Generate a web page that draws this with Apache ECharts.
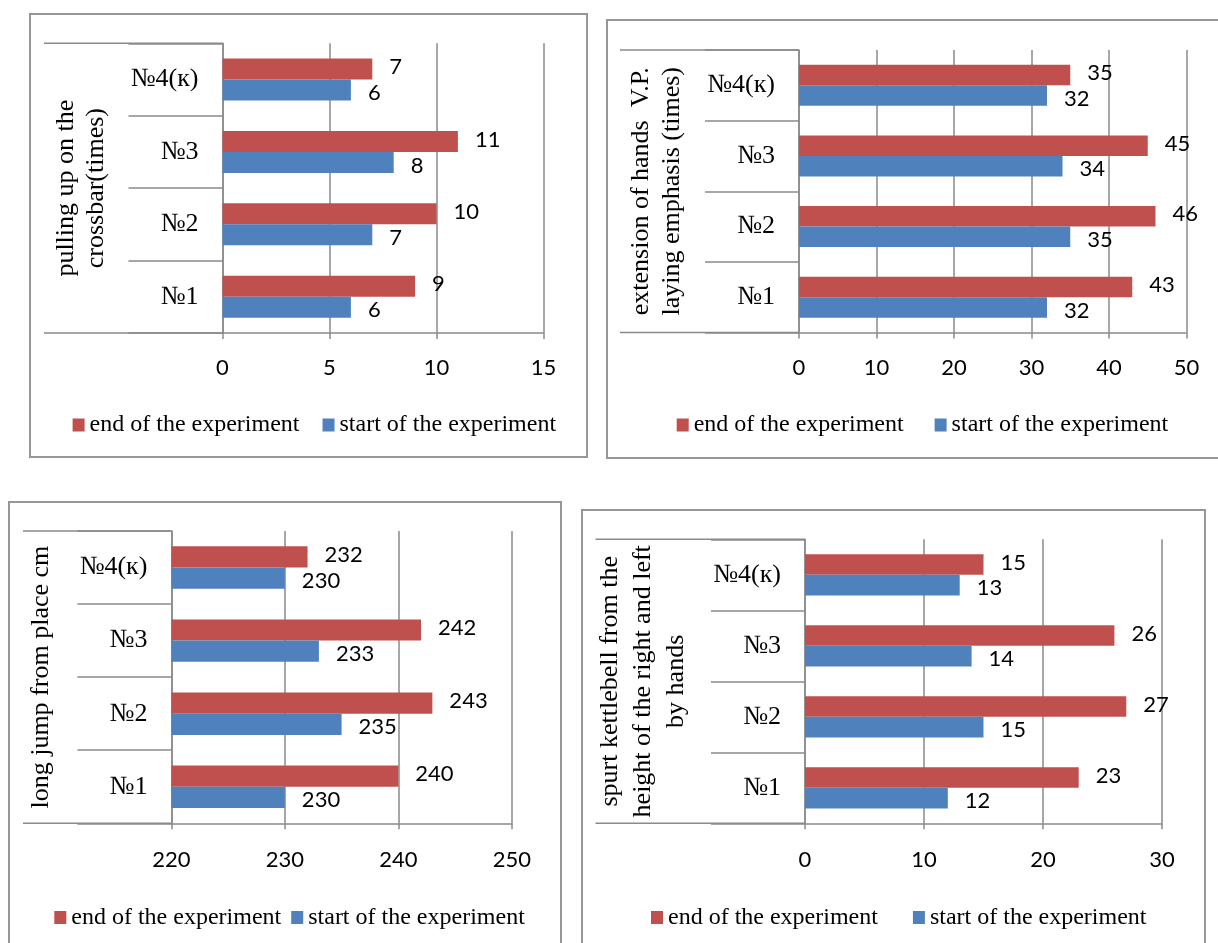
<!DOCTYPE html>
<html>
<head>
<meta charset="utf-8">
<script src="https://cdn.jsdelivr.net/npm/echarts@6/dist/echarts.min.js"></script>
<style>
  html, body { margin: 0; padding: 0; background: #fff; }
  #chart { width: 1218px; height: 943px; }
</style>
</head>
<body>
<div id="chart"></div>
<script>
// data
const categories = ['№1', '№2', '№3', '№4(к)'];
const seriesNames = ['end of the experiment', 'start of the experiment'];

const pullEnd = [9, 10, 11, 7];
const pullStart = [6, 7, 8, 6];
const pushEnd = [43, 46, 45, 35];
const pushStart = [32, 35, 34, 32];
const jumpEnd = [240, 243, 242, 232];
const jumpStart = [230, 235, 233, 230];
const kettleEnd = [23, 27, 26, 15];
const kettleStart = [12, 15, 14, 13];

const pullTicks = [0, 5, 10, 15];
const pushTicks = [0, 10, 20, 30, 40, 50];
const jumpTicks = [220, 230, 240, 250];
const kettleTicks = [0, 10, 20, 30];

const pullTitle = 'pulling up on the\ncrossbar(times)';
const pushTitle = 'extension of hands  V.P.\nlaying emphasis (times)';
const jumpTitle = 'long jump from place cm';
const kettleTitle = 'spurt kettlebell from the\nheight of the right and left\nby hands';

const RED = '#C0504D';
const BLUE = '#4F81BD';
const GRAY = '#8a8a8a';
const SERIF = "'Liberation Serif', 'Times New Roman', serif";
const SANS = "Lato, 'Open Sans', sans-serif";

// panel layout (page px)
const panels = [
  { end: pullEnd, start: pullStart, ticks: pullTicks, title: pullTitle,
    box: [30, 14, 557, 443], grid: { left: 222.5, top: 43.3, width: 321, height: 289.7 },
    lineLeft: 44, nameGap: 111, nameLH: 30, xMargin: 24, legend: { left: 67.6, top: 408, itemGap: 23 } },
  { end: pushEnd, start: pushStart, ticks: pushTicks, title: pushTitle,
    box: [607, 20, 640, 438], grid: { left: 799, top: 50, width: 387.5, height: 282.5 },
    lineLeft: 620, nameGap: 111.5, nameLH: 31, xMargin: 24, legend: { left: 671.7, top: 408, itemGap: 31 } },
  { end: jumpEnd, start: jumpStart, ticks: jumpTicks, title: jumpTitle,
    box: [9, 502, 552, 460], grid: { left: 171.4, top: 531, width: 340.4, height: 292.3 },
    lineLeft: 23, nameGap: 115, nameLH: 31, xMargin: 26, legend: { left: 49.3, top: 900.5, itemGap: 10 } },
  { end: kettleEnd, start: kettleStart, ticks: kettleTicks, title: kettleTitle,
    box: [582, 510, 623, 450], grid: { left: 805, top: 539.3, width: 357, height: 284 },
    lineLeft: 595.5, nameGap: 112, nameLH: 33, xMargin: 26, legend: { left: 646, top: 900.5, itemGap: 35 } },
];

const chart = echarts.init(document.getElementById('chart'));

const grid = [], xAxis = [], yAxis = [], series = [], legend = [], graphic = [];

panels.forEach((p, i) => {
  const g = p.grid;
  grid.push(g);

  xAxis.push({
    gridIndex: i, type: 'value',
    min: p.ticks[0], max: p.ticks[p.ticks.length - 1], interval: p.ticks[1] - p.ticks[0],
    axisLine: { show: true, lineStyle: { color: GRAY, width: 1.5 } },
    axisTick: { show: true, length: 6, lineStyle: { color: GRAY, width: 1.5 } },
    splitLine: { show: true, lineStyle: { color: GRAY, width: 1.5 } },
    axisLabel: { color: '#000', fontFamily: SANS, fontSize: 22, margin: p.xMargin },
  });

  yAxis.push({
    gridIndex: i, type: 'category', data: categories,
    name: p.title, nameLocation: 'middle', nameRotate: 90, nameGap: p.nameGap,
    nameTextStyle: { color: '#000', fontFamily: SERIF, fontSize: 26, lineHeight: p.nameLH },
    axisLine: { show: true, lineStyle: { color: GRAY, width: 1.5 } },
    axisTick: { show: true, length: 94, lineStyle: { color: GRAY, width: 1.5 } },
    splitLine: { show: false },
    axisLabel: { color: '#000', fontFamily: SERIF, fontSize: 26, margin: 24 },
  });

  const labelBase = { show: true, position: 'right', distance: 17, color: '#000', fontFamily: SANS, fontSize: 22 };
  series.push({
    name: seriesNames[0], type: 'bar', xAxisIndex: i, yAxisIndex: i, data: p.end,
    itemStyle: { color: RED }, barGap: '0%', barCategoryGap: '42%',
    label: { ...labelBase, offset: [0, -2] },
  });
  series.push({
    name: seriesNames[1], type: 'bar', xAxisIndex: i, yAxisIndex: i, data: p.start,
    itemStyle: { color: BLUE }, barGap: '0%', barCategoryGap: '42%',
    label: { ...labelBase, offset: [0, 3] },
  });

  legend.push({
    data: seriesNames, left: p.legend.left, top: p.legend.top, itemGap: p.legend.itemGap,
    icon: 'rect', itemWidth: 12, itemHeight: 13, selectedMode: false,
    textStyle: { color: '#000', fontFamily: SERIF, fontSize: 24 },
  });

  // panel frame and the long category-area lines
  const [bx, by, bw, bh] = p.box;
  graphic.push({ type: 'rect', shape: { x: bx, y: by, width: bw, height: bh },
    style: { fill: 'none', stroke: '#979797', lineWidth: 2 }, silent: true });
  graphic.push({ type: 'line', shape: { x1: p.lineLeft, y1: g.top, x2: g.left, y2: g.top },
    style: { stroke: GRAY, lineWidth: 1.5 }, silent: true });
  graphic.push({ type: 'line', shape: { x1: p.lineLeft, y1: g.top + g.height, x2: g.left, y2: g.top + g.height },
    style: { stroke: GRAY, lineWidth: 1.5 }, silent: true });
});

chart.setOption({
  backgroundColor: '#fff',
  animation: false,
  grid, xAxis, yAxis, series, legend, graphic,
});
</script>
</body>
</html>
